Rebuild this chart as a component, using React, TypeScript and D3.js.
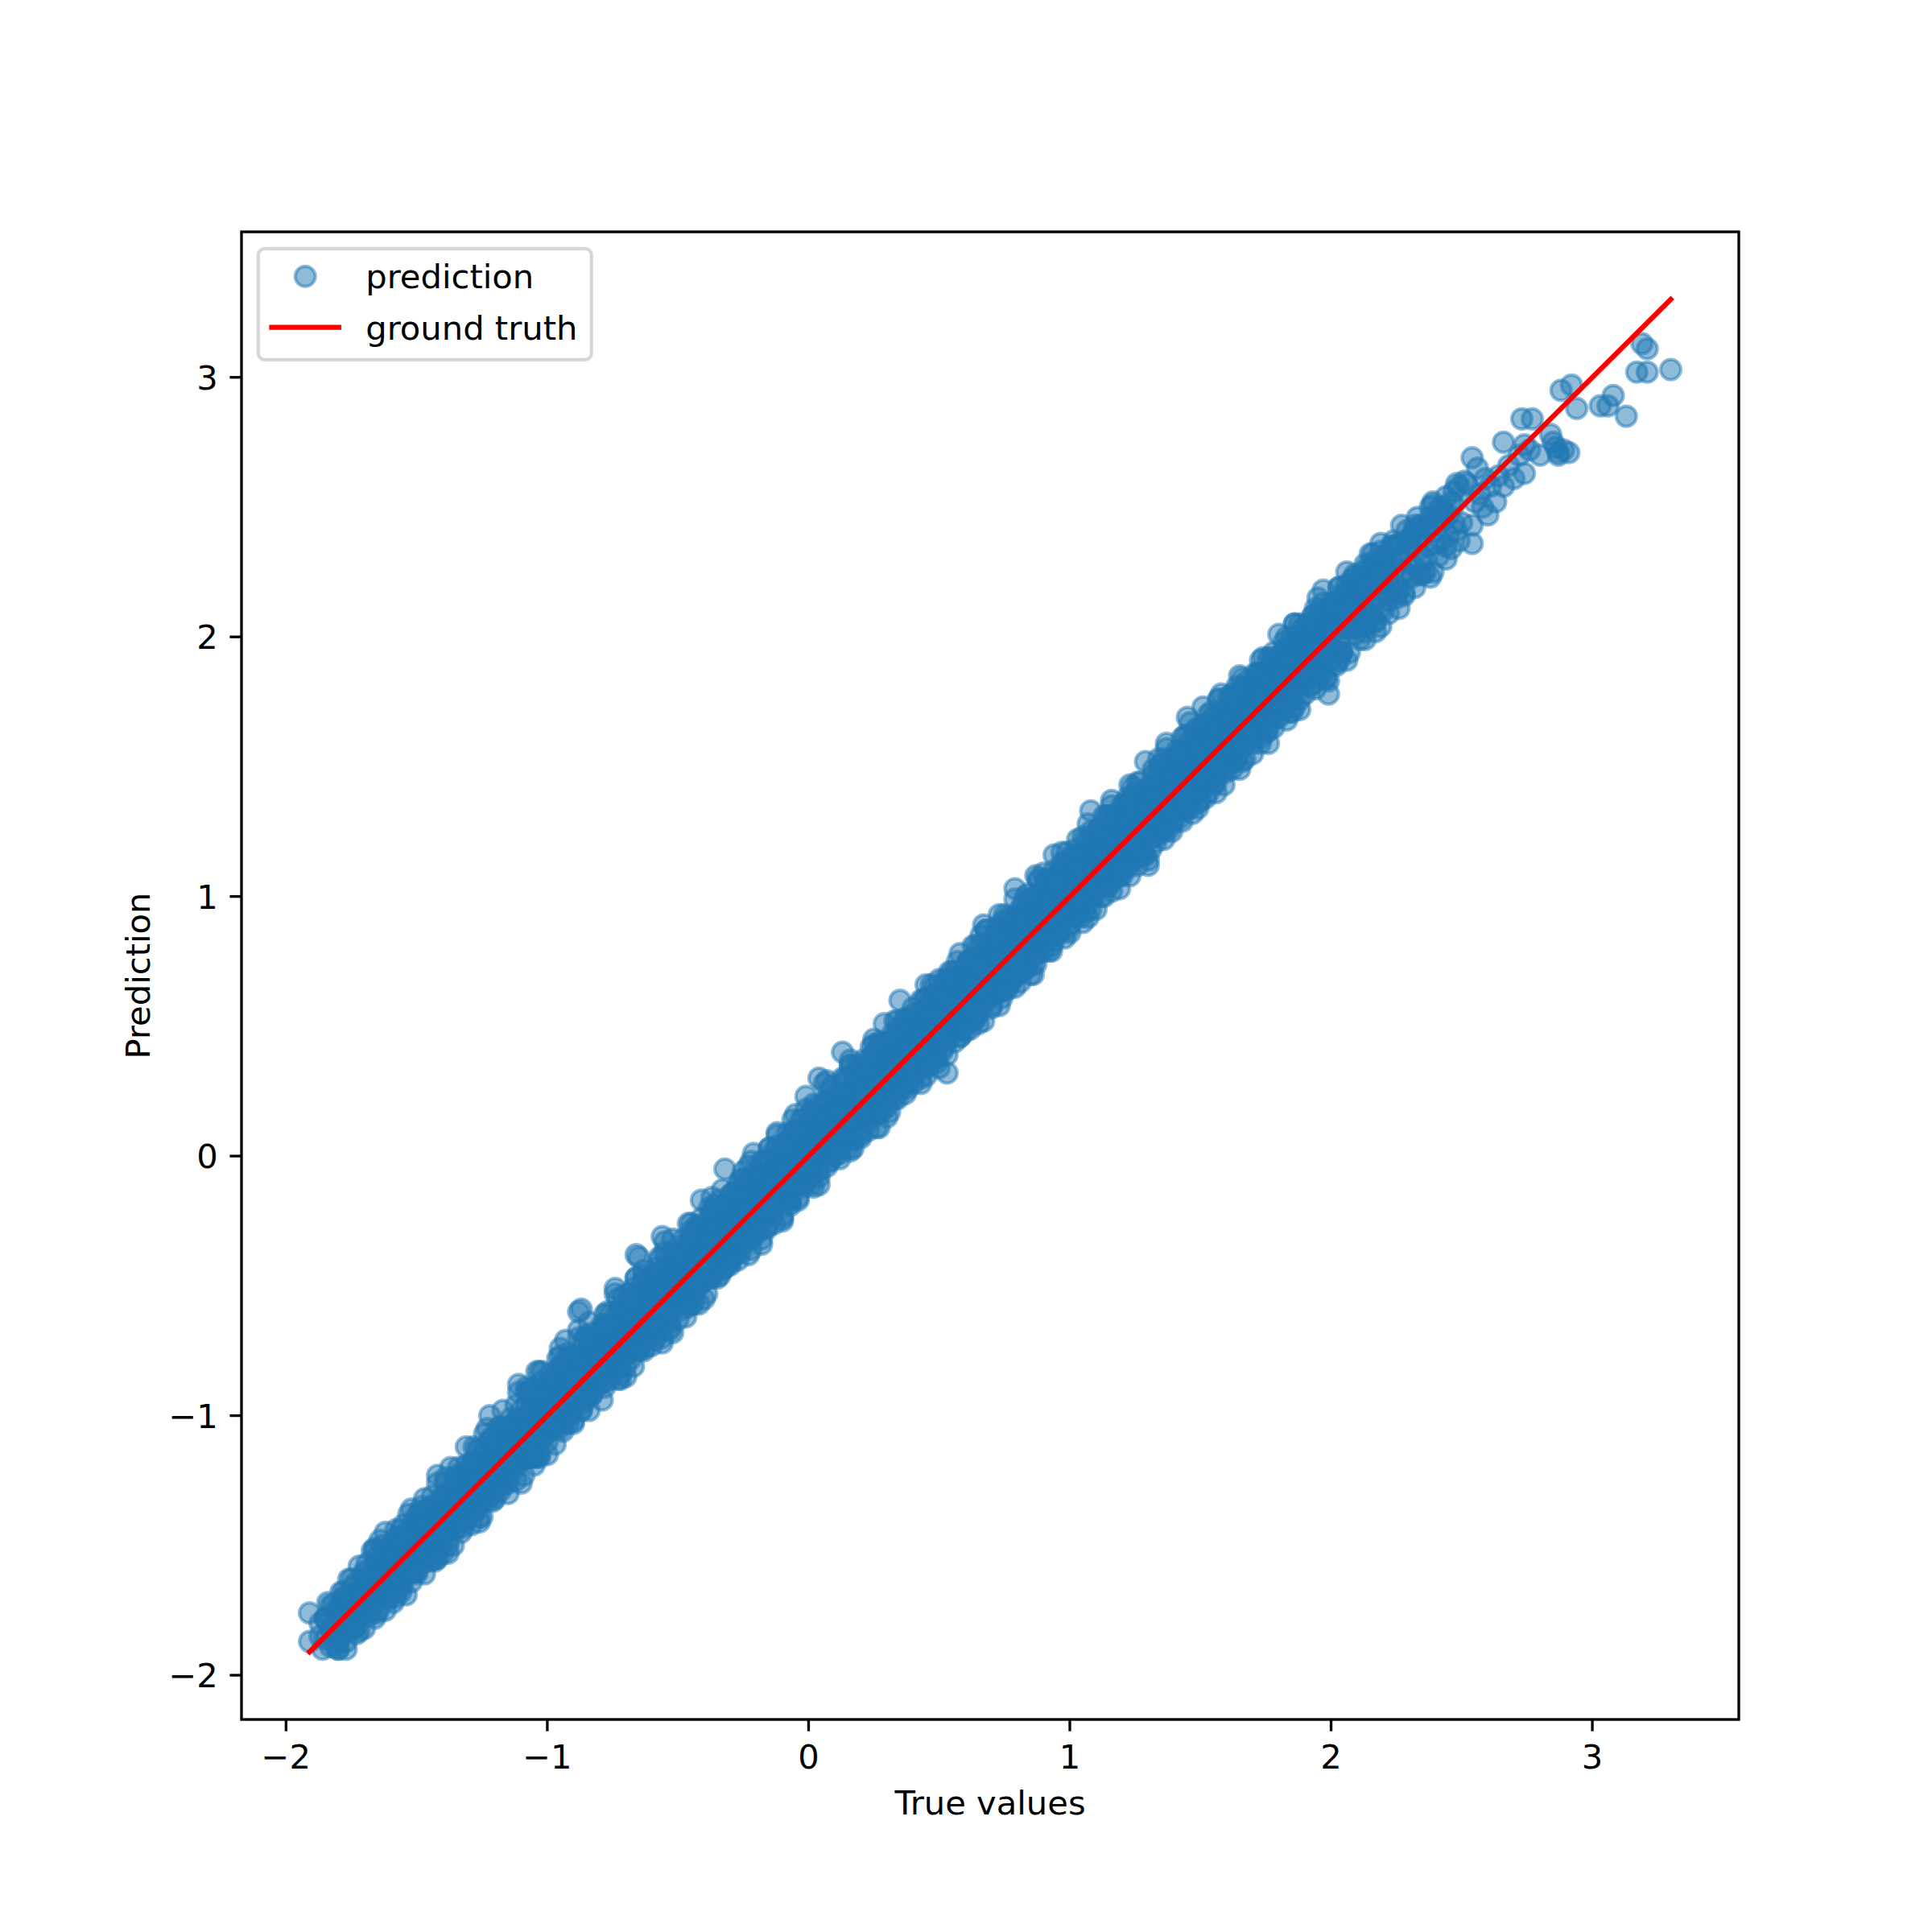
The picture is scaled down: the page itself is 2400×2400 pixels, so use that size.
import React from 'react';
import * as d3 from 'd3';

// True values (x) and model predictions (y), read bin by bin from the reference
const trueValues: number[] = [
  -1.91,-1.91,-1.87,-1.85,-1.83,-1.82,
  -1.79,-1.79,-1.78,-1.77,-1.76,-1.75,-1.74,-1.73,-1.72,-1.71,
  -1.70,-1.69,-1.69,-1.68,-1.67,-1.66,-1.66,-1.65,-1.64,-1.63,-1.62,-1.62,-1.61,-1.60,
  -1.60,-1.59,-1.59,-1.58,-1.57,-1.57,-1.56,-1.56,-1.55,-1.54,-1.54,-1.53,-1.53,-1.52,-1.52,-1.51,-1.51,-1.50,
  -1.50,-1.49,-1.49,-1.48,-1.48,-1.47,-1.47,-1.46,-1.46,-1.45,-1.45,-1.44,-1.44,-1.43,-1.43,-1.42,-1.42,-1.41,-1.41,-1.40,-1.40,-1.40,
  -1.39,-1.39,-1.38,-1.38,-1.37,-1.37,-1.36,-1.36,-1.35,-1.35,-1.34,-1.34,-1.33,-1.33,-1.32,-1.32,-1.31,-1.31,-1.30,-1.30,-1.30,-1.31,
  -1.29,-1.29,-1.28,-1.28,-1.27,-1.27,-1.26,-1.26,-1.25,-1.25,-1.24,-1.24,-1.23,-1.23,-1.22,-1.22,-1.21,-1.21,-1.20,-1.20,-1.20,-1.21,
  -1.19,-1.19,-1.18,-1.18,-1.17,-1.17,-1.16,-1.16,-1.15,-1.15,-1.14,-1.14,-1.13,-1.13,-1.12,-1.12,-1.11,-1.11,-1.10,-1.10,-1.10,-1.11,
  -1.09,-1.09,-1.08,-1.08,-1.07,-1.07,-1.06,-1.06,-1.05,-1.05,-1.04,-1.04,-1.03,-1.03,-1.02,-1.02,-1.01,-1.01,-1.08,-1.05,-1.03,-1.06,
  -1.00,-1.00,-0.99,-0.99,-0.98,-0.98,-0.97,-0.97,-0.96,-0.96,-0.95,-0.95,-0.94,-0.94,-0.93,-0.93,-0.92,-0.92,-0.91,-0.91,-0.90,-0.90,
  -0.89,-0.89,-0.88,-0.88,-0.87,-0.87,-0.86,-0.86,-0.85,-0.85,-0.84,-0.84,-0.83,-0.83,-0.82,-0.82,-0.81,-0.81,-0.80,-0.80,-0.80,-0.81,
  -0.79,-0.79,-0.78,-0.78,-0.77,-0.77,-0.76,-0.76,-0.75,-0.75,-0.74,-0.74,-0.73,-0.73,-0.72,-0.72,-0.71,-0.71,-0.70,-0.70,-0.70,-0.71,
  -0.69,-0.69,-0.68,-0.68,-0.67,-0.67,-0.66,-0.66,-0.66,-0.65,-0.65,-0.64,-0.64,-0.63,-0.63,-0.62,-0.62,-0.61,-0.61,-0.60,-0.60,-0.65,
  -0.59,-0.59,-0.58,-0.58,-0.57,-0.57,-0.56,-0.56,-0.55,-0.55,-0.54,-0.54,-0.53,-0.53,-0.52,-0.52,-0.51,-0.51,-0.50,-0.50,-0.56,-0.53,
  -0.49,-0.49,-0.48,-0.48,-0.47,-0.47,-0.46,-0.46,-0.45,-0.45,-0.44,-0.44,-0.43,-0.43,-0.42,-0.42,-0.41,-0.41,-0.40,-0.40,-0.47,-0.44,
  -0.39,-0.39,-0.38,-0.38,-0.37,-0.37,-0.36,-0.36,-0.35,-0.35,-0.34,-0.34,-0.33,-0.33,-0.32,-0.32,-0.31,-0.31,-0.30,-0.30,-0.36,-0.33,
  -0.29,-0.29,-0.28,-0.28,-0.27,-0.27,-0.26,-0.26,-0.25,-0.25,-0.24,-0.24,-0.23,-0.23,-0.22,-0.22,-0.21,-0.21,-0.20,-0.20,-0.27,-0.24,
  -0.19,-0.19,-0.18,-0.18,-0.17,-0.17,-0.16,-0.16,-0.15,-0.15,-0.14,-0.14,-0.13,-0.13,-0.12,-0.12,-0.11,-0.11,-0.10,-0.10,-0.16,-0.13,
  -0.09,-0.09,-0.08,-0.08,-0.07,-0.07,-0.06,-0.06,-0.05,-0.05,-0.04,-0.04,-0.03,-0.03,-0.02,-0.02,-0.01,-0.01,0.00,0.00,-0.06,-0.03,
  0.01,0.01,0.02,0.02,0.03,0.03,0.04,0.04,0.05,0.05,0.06,0.06,0.07,0.07,0.08,0.08,0.09,0.09,0.10,0.10,0.04,0.07,
  0.11,0.11,0.12,0.12,0.13,0.13,0.14,0.14,0.15,0.15,0.16,0.16,0.17,0.17,0.18,0.18,0.19,0.19,0.20,0.20,0.13,0.16,
  0.21,0.21,0.22,0.22,0.23,0.23,0.24,0.24,0.25,0.25,0.26,0.26,0.27,0.27,0.28,0.28,0.29,0.29,0.30,0.30,0.23,0.27,
  0.31,0.31,0.32,0.32,0.33,0.33,0.34,0.34,0.35,0.35,0.36,0.36,0.37,0.37,0.38,0.38,0.39,0.39,0.40,0.40,0.34,0.37,
  0.41,0.41,0.42,0.42,0.43,0.43,0.44,0.44,0.45,0.45,0.46,0.46,0.47,0.47,0.48,0.48,0.49,0.49,0.50,0.50,0.44,0.47,
  0.51,0.51,0.52,0.52,0.53,0.53,0.54,0.54,0.55,0.55,0.56,0.56,0.57,0.57,0.58,0.58,0.59,0.59,0.60,0.60,0.53,0.56,
  0.61,0.61,0.62,0.62,0.63,0.63,0.64,0.64,0.65,0.65,0.66,0.66,0.67,0.67,0.68,0.68,0.69,0.69,0.70,0.70,0.63,0.66,
  0.71,0.71,0.72,0.72,0.73,0.73,0.74,0.74,0.75,0.75,0.76,0.76,0.77,0.77,0.78,0.78,0.79,0.79,0.80,0.80,0.73,0.76,
  0.81,0.81,0.82,0.82,0.83,0.83,0.84,0.84,0.85,0.85,0.86,0.86,0.87,0.87,0.88,0.88,0.89,0.89,0.90,0.90,0.83,0.86,
  0.91,0.91,0.92,0.92,0.93,0.93,0.94,0.94,0.95,0.95,0.96,0.96,0.97,0.97,0.98,0.98,0.99,0.99,1.00,1.00,0.93,0.96,
  1.01,1.01,1.02,1.02,1.03,1.03,1.04,1.04,1.05,1.05,1.06,1.06,1.07,1.07,1.08,1.08,1.09,1.09,1.10,1.10,1.03,1.06,
  1.11,1.11,1.12,1.12,1.13,1.13,1.14,1.14,1.15,1.15,1.16,1.16,1.17,1.17,1.18,1.18,1.19,1.19,1.20,1.20,1.13,1.16,
  1.21,1.21,1.22,1.22,1.23,1.23,1.24,1.24,1.25,1.25,1.26,1.26,1.27,1.27,1.28,1.28,1.29,1.29,1.30,1.30,1.23,1.26,
  1.31,1.31,1.32,1.32,1.33,1.33,1.34,1.34,1.35,1.35,1.36,1.36,1.37,1.37,1.38,1.38,1.39,1.39,1.40,1.40,1.33,1.36,
  1.41,1.41,1.42,1.42,1.43,1.43,1.44,1.44,1.45,1.45,1.46,1.46,1.47,1.47,1.48,1.48,1.49,1.49,1.50,1.50,1.43,1.46,
  1.51,1.51,1.52,1.52,1.53,1.53,1.54,1.54,1.55,1.55,1.56,1.56,1.57,1.57,1.58,1.58,1.59,1.59,1.60,1.60,1.53,1.56,
  1.61,1.61,1.62,1.62,1.63,1.63,1.64,1.64,1.65,1.65,1.66,1.66,1.67,1.67,1.68,1.68,1.69,1.69,1.70,1.70,1.63,1.66,
  1.71,1.71,1.72,1.72,1.73,1.73,1.74,1.74,1.75,1.75,1.76,1.76,1.77,1.77,1.78,1.78,1.79,1.79,1.80,1.80,1.73,1.76,
  1.81,1.81,1.82,1.82,1.83,1.83,1.84,1.84,1.85,1.85,1.86,1.86,1.87,1.87,1.88,1.88,1.89,1.89,1.90,1.90,1.83,1.86,
  1.91,1.91,1.92,1.92,1.93,1.93,1.94,1.94,1.95,1.95,1.96,1.96,1.97,1.97,1.98,1.98,1.99,1.99,2.00,2.00,1.93,1.96,
  2.01,2.01,2.02,2.03,2.03,2.04,2.05,2.05,2.06,2.07,2.07,2.08,2.09,2.09,2.10,2.10,
  2.11,2.11,2.12,2.13,2.13,2.14,2.15,2.15,2.16,2.17,2.17,2.18,2.19,2.19,2.20,2.20,
  2.21,2.22,2.23,2.24,2.25,2.26,2.27,2.28,2.29,2.30,
  2.31,2.32,2.33,2.34,2.35,2.36,2.37,2.38,2.39,2.40,
  2.41,2.42,2.44,2.45,2.46,2.47,2.48,2.49,
  2.51,2.52,2.54,2.54,2.54,2.55,2.56,2.57,2.58,2.59,2.60,
  2.61,2.63,2.64,2.66,2.66,2.68,2.70,2.72,2.73,2.74,2.74,2.77,2.76,2.80,2.84,2.85,2.86,
  2.87,2.87,2.88,2.89,2.91,2.92,2.94,3.03,3.06,3.08,3.13,3.17,3.19,3.21,3.21,3.30,
  // second pass over the dense band
  -1.87,-1.86,-1.85,-1.85,-1.84,-1.83,-1.83,-1.82,-1.82,-1.81,-1.81,-1.84,
  -1.80,-1.80,-1.79,-1.79,-1.78,-1.78,-1.77,-1.77,-1.76,-1.76,-1.75,-1.75,-1.74,-1.74,-1.73,-1.73,-1.72,-1.72,-1.71,-1.71,
  -1.70,-1.70,-1.69,-1.69,-1.68,-1.68,-1.67,-1.67,-1.66,-1.66,-1.65,-1.65,-1.64,-1.64,-1.63,-1.63,-1.62,-1.62,-1.61,-1.61,-1.67,-1.64,
  -1.60,-1.60,-1.59,-1.59,-1.58,-1.58,-1.57,-1.57,-1.56,-1.56,-1.55,-1.55,-1.54,-1.54,-1.53,-1.53,-1.52,-1.52,-1.51,-1.51,-1.59,-1.57,-1.55,-1.53,
  -1.50,-1.50,-1.49,-1.49,-1.48,-1.48,-1.47,-1.47,-1.46,-1.46,-1.45,-1.45,-1.44,-1.44,-1.43,-1.43,-1.42,-1.42,-1.41,-1.41,-1.49,-1.47,-1.45,-1.43,
  -1.40,-1.40,-1.39,-1.39,-1.38,-1.38,-1.37,-1.37,-1.36,-1.36,-1.35,-1.35,-1.34,-1.34,-1.33,-1.33,-1.32,-1.32,-1.31,-1.31,-1.39,-1.37,-1.35,-1.33,
  -1.30,-1.30,-1.29,-1.29,-1.28,-1.28,-1.27,-1.27,-1.26,-1.26,-1.25,-1.25,-1.24,-1.24,-1.23,-1.23,-1.22,-1.22,-1.21,-1.21,-1.29,-1.27,-1.25,-1.23,
  -1.20,-1.20,-1.19,-1.19,-1.18,-1.18,-1.17,-1.17,-1.16,-1.16,-1.15,-1.15,-1.14,-1.14,-1.13,-1.13,-1.12,-1.12,-1.11,-1.11,-1.19,-1.17,-1.15,-1.13,
  -1.10,-1.10,-1.09,-1.09,-1.08,-1.08,-1.07,-1.07,-1.06,-1.06,-1.05,-1.05,-1.04,-1.04,-1.03,-1.03,-1.02,-1.02,-1.01,-1.01,-1.09,-1.07,-1.05,-1.03,
  -1.00,-1.00,-0.99,-0.99,-0.98,-0.98,-0.97,-0.97,-0.96,-0.96,-0.95,-0.95,-0.94,-0.94,-0.93,-0.93,-0.92,-0.92,-0.91,-0.91,-0.99,-0.97,-0.95,-0.93,
  -0.90,-0.90,-0.89,-0.89,-0.88,-0.88,-0.87,-0.87,-0.86,-0.86,-0.85,-0.85,-0.84,-0.84,-0.83,-0.83,-0.82,-0.82,-0.81,-0.81,-0.89,-0.87,-0.85,-0.83,
  -0.80,-0.80,-0.79,-0.79,-0.78,-0.78,-0.77,-0.77,-0.76,-0.76,-0.75,-0.75,-0.74,-0.74,-0.73,-0.73,-0.72,-0.72,-0.71,-0.71,-0.79,-0.77,-0.75,-0.73,
  -0.70,-0.70,-0.69,-0.69,-0.68,-0.68,-0.67,-0.67,-0.66,-0.66,-0.65,-0.65,-0.64,-0.64,-0.63,-0.63,-0.62,-0.62,-0.61,-0.61,-0.69,-0.67,-0.65,-0.63,
  -0.60,-0.60,-0.59,-0.59,-0.58,-0.58,-0.57,-0.57,-0.56,-0.56,-0.55,-0.55,-0.54,-0.54,-0.53,-0.53,-0.52,-0.52,-0.51,-0.51,-0.59,-0.57,-0.55,-0.53,
  -0.50,-0.50,-0.49,-0.49,-0.48,-0.48,-0.47,-0.47,-0.46,-0.46,-0.45,-0.45,-0.44,-0.44,-0.43,-0.43,-0.42,-0.42,-0.41,-0.41,-0.49,-0.47,-0.45,-0.43,
  -0.40,-0.40,-0.39,-0.39,-0.38,-0.38,-0.37,-0.37,-0.36,-0.36,-0.35,-0.35,-0.34,-0.34,-0.33,-0.33,-0.32,-0.32,-0.31,-0.31,-0.39,-0.37,-0.35,-0.33,
  -0.30,-0.30,-0.29,-0.29,-0.28,-0.28,-0.27,-0.27,-0.26,-0.26,-0.25,-0.25,-0.24,-0.24,-0.23,-0.23,-0.22,-0.22,-0.21,-0.21,-0.29,-0.27,-0.25,-0.23,
  -0.20,-0.20,-0.19,-0.19,-0.18,-0.18,-0.17,-0.17,-0.16,-0.16,-0.15,-0.15,-0.14,-0.14,-0.13,-0.13,-0.12,-0.12,-0.11,-0.11,-0.19,-0.17,-0.15,-0.13,
  -0.10,-0.10,-0.09,-0.09,-0.08,-0.08,-0.07,-0.07,-0.06,-0.06,-0.05,-0.05,-0.04,-0.04,-0.03,-0.03,-0.02,-0.02,-0.01,-0.01,-0.09,-0.07,-0.05,-0.03,
  0.00,0.00,0.01,0.01,0.02,0.02,0.03,0.03,0.04,0.04,0.05,0.05,0.06,0.06,0.07,0.07,0.08,0.08,0.09,0.09,0.01,0.03,0.05,0.07,
  0.10,0.10,0.11,0.11,0.12,0.12,0.13,0.13,0.14,0.14,0.15,0.15,0.16,0.16,0.17,0.17,0.18,0.18,0.19,0.19,0.11,0.13,0.15,0.17,
  0.20,0.20,0.21,0.21,0.22,0.22,0.23,0.23,0.24,0.24,0.25,0.25,0.26,0.26,0.27,0.27,0.28,0.28,0.29,0.29,0.21,0.23,0.25,0.27,
  0.30,0.30,0.31,0.31,0.32,0.32,0.33,0.33,0.34,0.34,0.35,0.35,0.36,0.36,0.37,0.37,0.38,0.38,0.39,0.39,0.31,0.33,0.35,0.37,
  0.40,0.40,0.41,0.41,0.42,0.42,0.43,0.43,0.44,0.44,0.45,0.45,0.46,0.46,0.47,0.47,0.48,0.48,0.49,0.49,0.41,0.43,0.45,0.47,
  0.50,0.50,0.51,0.51,0.52,0.52,0.53,0.53,0.54,0.54,0.55,0.55,0.56,0.56,0.57,0.57,0.58,0.58,0.59,0.59,0.51,0.53,0.55,0.57,
  0.60,0.60,0.61,0.61,0.62,0.62,0.63,0.63,0.64,0.64,0.65,0.65,0.66,0.66,0.67,0.67,0.68,0.68,0.69,0.69,0.61,0.63,0.65,0.67,
  0.70,0.70,0.71,0.71,0.72,0.72,0.73,0.73,0.74,0.74,0.75,0.75,0.76,0.76,0.77,0.77,0.78,0.78,0.79,0.79,0.71,0.73,0.75,0.77,
  0.80,0.80,0.81,0.81,0.82,0.82,0.83,0.83,0.84,0.84,0.85,0.85,0.86,0.86,0.87,0.87,0.88,0.88,0.89,0.89,0.81,0.83,0.85,0.87,
  0.90,0.90,0.91,0.91,0.92,0.92,0.93,0.93,0.94,0.94,0.95,0.95,0.96,0.96,0.97,0.97,0.98,0.98,0.99,0.99,0.91,0.93,0.95,0.97,
  1.00,1.00,1.01,1.01,1.02,1.02,1.03,1.03,1.04,1.04,1.05,1.05,1.06,1.06,1.07,1.07,1.08,1.08,1.09,1.09,1.01,1.03,1.05,1.07,
  1.10,1.10,1.11,1.11,1.12,1.12,1.13,1.13,1.14,1.14,1.15,1.15,1.16,1.16,1.17,1.17,1.18,1.18,1.19,1.19,1.11,1.13,1.15,1.17,
  1.20,1.20,1.21,1.21,1.22,1.22,1.23,1.23,1.24,1.24,1.25,1.25,1.26,1.26,1.27,1.27,1.28,1.28,1.29,1.29,1.21,1.23,1.25,1.27,
  1.30,1.30,1.31,1.31,1.32,1.32,1.33,1.33,1.34,1.34,1.35,1.35,1.36,1.36,1.37,1.37,1.38,1.38,1.39,1.39,1.31,1.33,1.35,1.37,
  1.40,1.40,1.41,1.41,1.42,1.42,1.43,1.43,1.44,1.44,1.45,1.45,1.46,1.46,1.47,1.47,1.48,1.48,1.49,1.49,1.41,1.43,1.45,1.47,
  1.50,1.50,1.51,1.51,1.52,1.52,1.53,1.53,1.54,1.54,1.55,1.55,1.56,1.56,1.57,1.57,1.58,1.58,1.59,1.59,1.51,1.53,1.55,1.57,
  1.60,1.60,1.61,1.61,1.62,1.62,1.63,1.63,1.64,1.64,1.65,1.65,1.66,1.66,1.67,1.67,1.68,1.68,1.69,1.69,1.61,1.63,1.65,1.67,
  1.70,1.70,1.71,1.71,1.72,1.72,1.73,1.73,1.74,1.74,1.75,1.75,1.76,1.76,1.77,1.77,1.78,1.78,1.79,1.79,1.71,1.73,1.75,1.77,
  1.80,1.80,1.81,1.81,1.82,1.82,1.83,1.83,1.84,1.84,1.85,1.85,1.86,1.86,1.87,1.87,1.88,1.88,1.89,1.89,1.81,1.83,1.85,1.87,
  1.90,1.90,1.91,1.91,1.92,1.92,1.93,1.93,1.94,1.94,1.95,1.95,1.96,1.96,1.97,1.97,1.98,1.98,1.99,1.99,1.91,1.93,1.95,1.97,
  2.00,2.00,2.01,2.02,2.02,2.03,2.04,2.04,2.05,2.06,2.06,2.07,2.08,2.08,2.09,2.09,2.01,2.03,2.05,2.07,
  2.10,2.11,2.11,2.12,2.13,2.13,2.14,2.15,2.15,2.16,2.17,2.17,2.18,2.19,2.19,2.12,2.14,2.16,
  2.20,2.21,2.22,2.23,2.24,2.25,2.26,2.27,2.28,2.29,2.22,2.26,
  2.30,2.31,2.32,2.33,2.34,2.35,2.36,2.37,2.38,2.39,
  2.40,2.42,2.43,2.44,2.46,2.47,2.48,2.50,
  // third pass, lower edge of the band
  -1.80,-1.79,-1.78,-1.77,-1.76,-1.75,-1.74,-1.73,-1.72,-1.71,-1.80,-1.78,-1.75,-1.72,
  -1.70,-1.69,-1.68,-1.67,-1.66,-1.65,-1.64,-1.63,-1.62,-1.61,-1.70,-1.68,-1.65,-1.62,
  -1.60,-1.59,-1.58,-1.57,-1.56,-1.55,-1.54,-1.53,-1.52,-1.51,-1.60,-1.58,-1.55,-1.52,
  -1.50,-1.49,-1.48,-1.47,-1.46,-1.45,-1.44,-1.43,-1.42,-1.41,-1.50,-1.48,-1.45,-1.42,
  -1.40,-1.39,-1.38,-1.37,-1.36,-1.35,-1.34,-1.33,-1.32,-1.31,-1.40,-1.38,-1.35,-1.32,
  -1.30,-1.29,-1.28,-1.27,-1.26,-1.25,-1.24,-1.23,-1.22,-1.21,-1.30,-1.28,-1.25,-1.22,
  -1.20,-1.19,-1.18,-1.17,-1.16,-1.15,-1.14,-1.13,-1.12,-1.11,-1.20,-1.18,-1.15,-1.12,
  -1.10,-1.09,-1.08,-1.07,-1.06,-1.05,-1.04,-1.03,-1.02,-1.01,-1.10,-1.08,-1.05,-1.02,
  -1.00,-0.99,-0.98,-0.97,-0.96,-0.95,-0.94,-0.93,-0.92,-0.91,-1.00,-0.98,-0.95,-0.92,
  -0.90,-0.89,-0.88,-0.87,-0.86,-0.85,-0.84,-0.83,-0.82,-0.81,-0.90,-0.88,-0.85,-0.82,
  -0.80,-0.79,-0.78,-0.77,-0.76,-0.75,-0.74,-0.73,-0.72,-0.71,-0.80,-0.78,-0.75,-0.72,
  -0.70,-0.69,-0.68,-0.67,-0.66,-0.65,-0.64,-0.63,-0.62,-0.61,-0.70,-0.68,-0.65,-0.62,
  -0.60,-0.59,-0.58,-0.57,-0.56,-0.55,-0.54,-0.53,-0.52,-0.51,-0.60,-0.58,-0.55,-0.52,
  -0.50,-0.49,-0.48,-0.47,-0.46,-0.45,-0.44,-0.43,-0.42,-0.41,-0.50,-0.48,-0.45,-0.42,
  -0.40,-0.39,-0.38,-0.37,-0.36,-0.35,-0.34,-0.33,-0.32,-0.31,-0.40,-0.38,-0.35,-0.32,
  -0.30,-0.29,-0.28,-0.27,-0.26,-0.25,-0.24,-0.23,-0.22,-0.21,-0.30,-0.28,-0.25,-0.22,
  -0.20,-0.19,-0.18,-0.17,-0.16,-0.15,-0.14,-0.13,-0.12,-0.11,-0.20,-0.18,-0.15,-0.12,
  -0.10,-0.09,-0.08,-0.07,-0.06,-0.05,-0.04,-0.03,-0.02,-0.01,-0.10,-0.08,-0.05,-0.02,
  0.00,0.01,0.02,0.03,0.04,0.05,0.06,0.07,0.08,0.09,0.00,0.02,0.05,0.08,
  0.10,0.11,0.12,0.13,0.14,0.15,0.16,0.17,0.18,0.19,0.10,0.12,0.15,0.18,
  0.20,0.21,0.22,0.23,0.24,0.25,0.26,0.27,0.28,0.29,0.20,0.22,0.25,0.28,
  0.30,0.31,0.32,0.33,0.34,0.35,0.36,0.37,0.38,0.39,0.30,0.32,0.35,0.38,
  0.40,0.41,0.42,0.43,0.44,0.45,0.46,0.47,0.48,0.49,0.40,0.42,0.45,0.48,
  0.50,0.51,0.52,0.53,0.54,0.55,0.56,0.57,0.58,0.59,0.50,0.52,0.55,0.58,
  0.60,0.61,0.62,0.63,0.64,0.65,0.66,0.67,0.68,0.69,0.60,0.62,0.65,0.68,
  0.70,0.71,0.72,0.73,0.74,0.75,0.76,0.77,0.78,0.79,0.70,0.72,0.75,0.78,
  0.80,0.81,0.82,0.83,0.84,0.85,0.86,0.87,0.88,0.89,0.80,0.82,0.85,0.88,
  0.90,0.91,0.92,0.93,0.94,0.95,0.96,0.97,0.98,0.99,0.90,0.92,0.95,0.98,
  1.00,1.01,1.02,1.03,1.04,1.05,1.06,1.07,1.08,1.09,1.00,1.02,1.05,1.08,
  1.10,1.11,1.12,1.13,1.14,1.15,1.16,1.17,1.18,1.19,1.10,1.12,1.15,1.18,
  1.20,1.21,1.22,1.23,1.24,1.25,1.26,1.27,1.28,1.29,1.20,1.22,1.25,1.28,
  1.30,1.31,1.32,1.33,1.34,1.35,1.36,1.37,1.38,1.39,1.30,1.32,1.35,1.38,
  1.40,1.41,1.42,1.43,1.44,1.45,1.46,1.47,1.48,1.49,1.40,1.42,1.45,1.48,
  1.50,1.51,1.52,1.53,1.54,1.55,1.56,1.57,1.58,1.59,1.50,1.52,1.55,1.58,
  1.60,1.61,1.62,1.63,1.64,1.65,1.66,1.67,1.68,1.69,1.60,1.62,1.65,1.68,
  1.70,1.71,1.72,1.73,1.74,1.75,1.76,1.77,1.78,1.79,1.70,1.72,1.75,1.78,
  1.80,1.81,1.82,1.83,1.84,1.85,1.86,1.87,1.88,1.89,1.80,1.82,1.85,1.88,
  1.90,1.91,1.92,1.93,1.94,1.95,1.96,1.97,1.98,1.99,1.90,1.92,1.95,1.98,
  2.00,2.01,2.02,2.03,2.04,2.05,2.06,2.07,2.08,2.09,2.02,2.06,
  2.10,2.11,2.12,2.13,2.14,2.15,2.16,2.17,2.18,2.19,2.12,2.16,
  2.20,2.21,2.22,2.23,2.24,2.25,2.26,2.27,2.28,2.29,
  2.31,2.32,2.33,2.35,2.36,2.37,2.38,2.39,
  2.41,2.43,2.44,2.45,2.47,2.49,
];

const predictions: number[] = [
  -1.87,-1.76,-1.80,-1.78,-1.82,-1.73,
  -1.84,-1.72,-1.74,-1.80,-1.70,-1.77,-1.66,-1.81,-1.69,-1.74,
  -1.60,-1.71,-1.65,-1.75,-1.62,-1.51,-1.68,-1.58,-1.66,-1.55,-1.70,-1.60,-1.52,-1.63,
  -1.56,-1.49,-1.62,-1.54,-1.66,-1.51,-1.68,-1.55,-1.47,-1.58,-1.52,-1.61,-1.45,-1.50,-1.56,-1.43,-1.59,-1.48,
  -1.53,-1.42,-1.47,-1.55,-1.40,-1.49,-1.44,-1.52,-1.37,-1.45,-1.41,-1.50,-1.35,-1.43,-1.47,-1.38,-1.53,-1.40,-1.34,-1.44,-1.53,-1.37,
  -1.36,-1.41,-1.31,-1.45,-1.35,-1.29,-1.39,-1.33,-1.44,-1.30,-1.36,-1.26,-1.32,-1.41,-1.28,-1.35,-1.22,-1.30,-1.38,-1.25,-1.33,-1.40,
  -1.27,-1.21,-1.31,-1.24,-1.36,-1.20,-1.25,-1.29,-1.18,-1.33,-1.22,-1.15,-1.26,-1.19,-1.30,-1.00,-1.20,-1.24,-1.14,-1.28,-1.17,-1.09,
  -1.16,-1.10,-1.21,-1.13,-1.25,-1.07,-1.15,-1.19,-1.09,-1.22,-1.11,-1.04,-1.16,-1.08,-1.20,-1.02,-1.10,-1.14,-1.05,-1.17,-1.12,-0.88,
  -1.05,-1.16,-0.96,-1.10,-0.99,-0.90,-1.16,-1.03,-0.91,-1.10,-0.98,-0.83,-1.15,-0.93,-1.01,-0.87,-1.05,-0.92,-0.89,-1.19,-0.98,-1.06,
  -0.93,-1.05,-0.96,-0.88,-1.02,-0.94,-0.85,-0.99,-0.92,-1.04,-0.90,-0.74,-0.97,-0.89,-1.01,-0.86,-0.93,-0.78,-0.88,-0.99,-0.84,-0.92,
  -0.85,-0.94,-0.80,-0.60,-0.89,-0.59,-0.95,-0.77,-0.84,-0.90,-0.75,-0.81,-0.92,-0.70,-0.79,-0.86,-0.73,-0.88,-0.77,-0.69,-0.84,-0.80,
  -0.74,-0.83,-0.70,-0.80,-0.60,-0.76,-0.84,-0.67,-0.73,-0.79,-0.51,-0.70,-0.81,-0.74,-0.66,-0.59,-0.72,-0.77,-0.62,-0.68,-0.75,-0.65,
  -0.66,-0.75,-0.58,-0.70,-0.51,-0.62,-0.38,-0.65,-0.75,-0.58,-0.52,-0.68,-0.62,-0.44,-0.74,-0.56,-0.53,-0.62,-0.47,-0.56,-0.67,-0.39,
  -0.54,-0.62,-0.46,-0.66,-0.55,-0.39,-0.72,-0.48,-0.55,-0.33,-0.59,-0.44,-0.49,-0.67,-0.37,-0.49,-0.58,-0.40,-0.44,-0.52,-0.31,-0.52,
  -0.47,-0.40,-0.54,-0.34,-0.43,-0.57,-0.39,-0.26,-0.47,-0.34,-0.43,-0.57,-0.27,-0.38,-0.46,-0.34,-0.17,-0.49,-0.37,-0.28,-0.62,-0.38,
  -0.43,-0.32,-0.25,-0.47,-0.35,-0.16,-0.37,-0.26,-0.30,-0.47,-0.17,-0.34,-0.25,-0.39,-0.20,-0.05,-0.34,-0.27,-0.15,-0.40,-0.30,-0.32,
  -0.23,-0.31,-0.17,-0.36,-0.24,-0.11,-0.37,-0.18,-0.24,-0.06,-0.29,-0.15,-0.10,-0.26,-0.18,-0.36,0.01,-0.14,-0.26,-0.10,-0.25,-0.10,
  -0.18,-0.09,-0.25,-0.13,-0.02,-0.20,-0.08,-0.28,0.03,-0.13,-0.08,-0.23,-0.01,-0.13,0.09,-0.16,-0.02,-0.07,-0.25,0.03,-0.13,-0.19,
  -0.14,-0.01,-0.06,0.06,-0.17,-0.01,0.14,-0.08,0.06,-0.01,-0.17,0.05,-0.02,0.14,-0.08,0.05,0.23,0.02,-0.09,0.12,-0.06,0.02,
  0.04,-0.07,0.14,0.07,0.00,0.19,0.12,-0.08,0.06,0.15,0.28,0.01,0.13,0.21,0.07,-0.02,0.18,0.27,0.12,0.04,0.30,0.11,
  0.18,0.07,0.23,0.01,0.15,0.40,0.29,0.07,0.20,0.24,0.14,0.35,0.20,0.03,0.30,0.24,0.10,0.20,0.33,0.28,0.08,0.37,
  0.23,0.31,0.16,0.36,0.27,0.10,0.32,0.42,0.23,0.31,0.38,0.17,0.28,0.43,0.33,0.24,0.51,0.38,0.19,0.33,0.34,0.11,
  0.28,0.38,0.45,0.24,0.35,0.52,0.39,0.22,0.45,0.60,0.31,0.40,0.52,0.36,0.46,0.28,0.51,0.42,0.33,0.57,0.40,0.37,
  0.46,0.35,0.53,0.44,0.30,0.51,0.60,0.41,0.51,0.66,0.37,0.47,0.59,0.51,0.43,0.62,0.38,0.58,0.53,0.68,0.43,0.54,
  0.59,0.49,0.65,0.42,0.57,0.32,0.71,0.60,0.48,0.65,0.57,0.71,0.53,0.66,0.78,0.46,0.62,0.70,0.54,0.65,0.67,0.56,
  0.64,0.73,0.57,0.69,0.81,0.52,0.66,0.73,0.51,0.80,0.71,0.63,0.78,0.89,0.60,0.74,0.82,0.67,0.78,0.58,0.64,0.85,
  0.67,0.79,0.86,0.63,0.76,0.93,0.80,0.61,0.85,0.76,0.70,0.92,0.81,0.88,0.68,0.85,1.03,0.77,0.93,0.85,0.58,0.85,
  0.87,0.76,0.94,0.84,0.72,1.00,0.93,0.82,0.99,0.89,0.70,0.93,1.08,0.87,0.98,0.80,0.94,1.02,0.87,1.09,0.91,0.74,
  0.93,1.02,0.85,1.07,0.98,0.81,1.02,1.16,0.92,1.05,0.99,0.87,1.13,1.03,0.84,1.10,1.00,1.17,0.95,1.09,0.97,1.09,
  0.99,1.10,1.16,0.92,1.07,1.22,0.98,1.11,1.17,0.90,1.08,1.22,1.13,1.03,1.18,1.33,1.00,1.12,1.23,1.09,1.11,0.94,
  1.16,1.04,1.23,1.13,1.31,1.00,1.22,1.17,1.11,1.29,1.37,1.06,1.23,1.29,1.16,1.27,1.03,1.23,1.35,1.14,1.23,1.16,
  1.28,1.18,1.35,1.11,1.25,1.43,1.33,1.16,1.40,1.29,1.12,1.37,1.28,1.44,1.23,1.34,1.52,1.28,1.38,1.12,1.35,1.29,
  1.35,1.41,1.23,1.47,1.34,1.21,1.41,1.53,1.32,1.46,1.41,1.26,1.51,1.59,1.32,1.46,1.41,1.25,1.52,1.46,1.32,1.53,
  1.36,1.49,1.55,1.30,1.46,1.61,1.50,1.37,1.56,1.69,1.44,1.55,1.32,1.51,1.62,1.49,1.40,1.65,1.57,1.46,1.53,1.67,
  1.73,1.53,1.44,1.64,1.58,1.40,1.71,1.62,1.52,1.69,1.56,1.46,1.67,1.76,1.62,1.52,1.72,1.43,1.67,1.61,1.62,1.54,
  1.67,1.57,1.73,1.78,1.52,1.66,1.73,1.57,1.85,1.66,1.79,1.52,1.72,1.77,1.66,1.83,1.76,1.60,1.82,1.72,1.58,1.84,
  1.74,1.81,1.66,1.86,1.61,1.80,1.92,1.75,1.72,1.86,1.81,1.59,1.85,1.92,1.70,1.80,1.91,1.78,2.01,1.86,1.82,1.66,
  1.79,1.90,1.95,1.73,1.87,2.00,1.71,1.90,1.95,1.85,2.05,1.81,1.94,1.99,1.72,1.91,1.97,1.82,2.04,1.91,1.88,1.97,
  1.96,1.85,2.02,1.94,1.82,2.08,2.01,1.91,2.07,2.15,1.88,2.00,2.18,2.06,1.84,1.99,1.78,2.05,2.11,1.96,2.01,2.09,
  2.04,2.13,1.95,2.19,2.08,1.94,2.14,2.03,2.25,2.13,1.94,2.19,2.10,2.23,2.05,2.18,
  2.07,2.18,2.25,2.02,2.15,2.23,2.09,2.32,2.20,2.02,2.27,2.18,2.33,2.11,2.26,2.31,
  2.26,2.14,2.35,2.26,2.20,2.36,2.43,2.16,2.33,2.38,
  2.28,2.41,2.46,2.24,2.38,2.30,2.43,2.50,2.25,2.41,
  2.48,2.37,2.54,2.47,2.34,2.51,2.41,2.58,
  2.60,2.59,2.69,2.43,2.36,2.52,2.65,2.55,2.50,2.61,2.47,
  2.58,2.52,2.62,2.75,2.58,2.66,2.61,2.70,2.84,2.63,2.74,2.84,2.72,2.70,2.78,2.75,2.73,
  2.71,2.70,2.95,2.72,2.71,2.97,2.88,2.89,2.89,2.93,2.85,3.02,3.13,3.11,3.02,3.03,
  // second pass over the dense band
  -1.85,-1.90,-1.78,-1.86,-1.80,-1.89,-1.73,-1.81,-1.85,-1.75,-1.89,-1.72,
  -1.75,-1.87,-1.78,-1.68,-1.81,-1.70,-1.87,-1.74,-1.63,-1.81,-1.69,-1.75,-1.82,-1.65,-1.69,-1.75,-1.58,-1.83,-1.64,-1.69,
  -1.74,-1.63,-1.57,-1.67,-1.77,-1.63,-1.52,-1.69,-1.57,-1.78,-1.62,-1.54,-1.70,-1.58,-1.62,-1.50,-1.66,-1.54,-1.71,-1.57,-1.67,-1.48,
  -1.57,-1.50,-1.64,-1.52,-1.44,-1.68,-1.55,-1.49,-1.59,-1.44,-1.50,-1.63,-1.54,-1.45,-1.38,-1.57,-1.46,-1.64,-1.40,-1.50,-1.55,-1.64,-1.42,-1.47,
  -1.42,-1.52,-1.37,-1.45,-1.57,-1.42,-1.32,-1.52,-1.44,-1.36,-1.56,-1.38,-1.41,-1.31,-1.47,-1.34,-1.42,-1.26,-1.48,-1.36,-1.38,-1.48,-1.41,-1.56,
  -1.39,-1.31,-1.45,-1.26,-1.33,-1.48,-1.30,-1.20,-1.39,-1.32,-1.24,-1.43,-1.20,-1.32,-1.45,-1.27,-1.22,-1.36,-1.28,-1.12,-1.31,-1.39,-1.23,-1.33,
  -1.24,-1.34,-1.18,-1.27,-1.12,-1.37,-1.23,-1.19,-1.39,-1.13,-1.25,-1.18,-1.30,-1.14,-1.05,-1.20,-1.24,-1.10,-1.16,-1.31,-1.20,-1.13,-1.30,-1.22,
  -1.23,-1.12,-1.05,-1.16,-1.26,-1.07,-1.12,-0.98,-1.17,-1.07,-1.26,-1.09,-1.01,-1.14,-1.06,-1.19,-0.96,-1.10,-1.01,-1.15,-1.15,-1.05,-1.24,-1.05,
  -1.05,-0.98,-1.14,-1.01,-1.06,-0.91,-1.16,-1.03,-0.96,-1.08,-0.91,-0.99,-1.16,-0.95,-1.02,-0.83,-1.08,-0.95,-0.89,-0.98,-1.17,-0.92,-1.00,-1.06,
  -0.90,-0.98,-0.84,-1.06,-0.92,-0.86,-1.00,-0.88,-0.78,-0.95,-1.05,-0.88,-0.81,-0.90,-0.98,-0.82,-0.89,-0.76,-0.99,-0.83,-0.94,-0.98,-0.81,-0.71,
  -0.86,-0.77,-0.95,-0.80,-0.70,-0.87,-0.80,-0.98,-0.71,-0.81,-0.75,-0.88,-0.72,-0.64,-0.91,-0.77,-0.80,-0.68,-0.86,-0.72,-0.78,-0.84,-0.69,-0.85,
  -0.72,-0.84,-0.67,-0.76,-0.61,-0.87,-0.71,-0.66,-0.75,-0.61,-0.82,-0.66,-0.70,-0.53,-0.75,-0.60,-0.65,-0.84,-0.61,-0.69,-0.65,-0.72,-0.81,-0.55,
  -0.68,-0.59,-0.74,-0.53,-0.61,-0.78,-0.54,-0.63,-0.47,-0.68,-0.57,-0.53,-0.72,-0.59,-0.48,-0.63,-0.52,-0.66,-0.55,-0.47,-0.76,-0.58,-0.62,-0.46,
  -0.51,-0.63,-0.45,-0.53,-0.69,-0.48,-0.54,-0.40,-0.62,-0.48,-0.43,-0.54,-0.39,-0.63,-0.48,-0.42,-0.54,-0.32,-0.44,-0.56,-0.46,-0.53,-0.46,-0.66,
  -0.37,-0.46,-0.56,-0.39,-0.32,-0.49,-0.40,-0.35,-0.56,-0.41,-0.26,-0.43,-0.35,-0.48,-0.29,-0.37,-0.50,-0.31,-0.38,-0.24,-0.49,-0.39,-0.57,-0.28,
  -0.34,-0.26,-0.43,-0.30,-0.37,-0.20,-0.46,-0.26,-0.32,-0.21,-0.41,-0.27,-0.22,-0.34,-0.13,-0.44,-0.25,-0.19,-0.29,-0.34,-0.29,-0.21,-0.30,-0.41,
  -0.19,-0.35,-0.22,-0.14,-0.26,-0.38,-0.15,-0.22,-0.09,-0.28,-0.16,-0.12,-0.31,-0.20,-0.13,-0.04,-0.26,-0.16,-0.07,-0.20,-0.38,-0.19,-0.09,-0.20,
  -0.16,-0.08,-0.27,-0.12,-0.02,-0.17,-0.20,-0.07,-0.02,-0.27,-0.09,0.03,-0.12,-0.05,-0.19,0.00,-0.07,0.08,-0.13,-0.03,-0.08,-0.22,-0.12,0.02,
  -0.02,-0.14,0.04,-0.06,0.09,-0.17,-0.01,0.04,-0.07,0.09,-0.01,0.16,-0.11,0.05,0.09,-0.03,0.14,-0.07,0.06,0.09,-0.07,-0.19,0.09,0.02,
  0.02,0.10,-0.05,0.15,0.07,0.20,0.00,0.11,0.16,-0.06,0.11,0.06,0.21,0.01,0.16,0.29,0.11,0.00,0.20,0.16,0.17,0.01,0.09,0.20,
  0.06,0.19,0.24,0.13,0.03,0.18,0.30,0.24,0.12,0.18,0.29,0.08,0.24,0.35,0.18,0.06,0.30,0.23,0.35,0.14,0.18,0.23,0.15,0.32,
  0.27,0.17,0.33,0.37,0.23,0.14,0.33,0.28,0.38,0.19,0.33,0.45,0.29,0.16,0.38,0.33,0.26,0.43,0.38,0.29,0.34,0.17,0.29,0.44,
  0.33,0.41,0.25,0.39,0.47,0.33,0.23,0.46,0.40,0.52,0.32,0.44,0.48,0.38,0.30,0.53,0.43,0.48,0.35,0.53,0.38,0.32,0.46,0.41,
  0.50,0.38,0.47,0.55,0.34,0.46,0.60,0.52,0.44,0.56,0.34,0.52,0.61,0.49,0.66,0.42,0.56,0.61,0.50,0.42,0.52,0.48,0.61,0.46,
  0.55,0.63,0.47,0.60,0.54,0.68,0.44,0.60,0.65,0.53,0.69,0.59,0.50,0.66,0.75,0.57,0.66,0.46,0.71,0.65,0.48,0.68,0.58,0.66,
  0.61,0.69,0.75,0.56,0.68,0.73,0.53,0.66,0.81,0.72,0.63,0.77,0.71,0.81,0.60,0.77,0.70,0.87,0.65,0.76,0.74,0.63,0.74,0.59,
  0.77,0.67,0.83,0.75,0.88,0.64,0.82,0.74,0.87,0.68,0.85,0.93,0.78,0.84,0.66,0.91,0.83,0.77,0.90,0.99,0.74,0.88,0.70,0.83,
  0.84,0.92,0.75,0.89,0.97,0.82,0.74,0.94,0.90,1.01,0.83,0.94,0.99,0.81,0.90,0.97,1.07,0.78,0.96,0.90,0.95,0.79,0.96,0.92,
  1.00,0.89,0.97,1.05,0.85,0.95,1.05,1.01,0.83,1.10,0.97,1.04,0.92,1.09,1.02,1.17,0.92,1.09,0.99,1.06,1.06,0.90,1.03,1.09,
  1.05,1.13,0.96,1.10,1.04,1.18,0.95,1.10,1.15,1.04,1.23,1.02,1.18,1.12,0.97,1.21,1.12,1.17,1.07,1.24,1.02,1.13,0.98,1.28,
  1.12,1.20,1.26,1.05,1.19,1.24,1.11,1.17,1.31,1.05,1.23,1.28,1.17,1.35,1.12,1.26,1.32,1.21,1.08,1.25,1.22,1.09,1.31,1.22,
  1.28,1.16,1.32,1.24,1.38,1.12,1.29,1.36,1.24,1.33,1.18,1.39,1.30,1.44,1.25,1.37,1.34,1.16,1.41,1.31,1.36,1.30,1.20,1.38,
  1.36,1.42,1.28,1.40,1.49,1.24,1.37,1.44,1.35,1.49,1.29,1.43,1.49,1.25,1.42,1.57,1.40,1.48,1.35,1.53,1.38,1.32,1.47,1.40,
  1.43,1.50,1.56,1.36,1.49,1.54,1.33,1.48,1.62,1.45,1.54,1.42,1.60,1.52,1.39,1.58,1.64,1.48,1.57,1.36,1.45,1.56,1.43,1.56,
  1.59,1.48,1.64,1.56,1.43,1.63,1.70,1.55,1.62,1.48,1.69,1.59,1.66,1.44,1.63,1.76,1.59,1.70,1.55,1.66,1.66,1.45,1.58,1.67,
  1.64,1.72,1.54,1.69,1.77,1.62,1.52,1.73,1.70,1.81,1.62,1.74,1.79,1.68,1.59,1.81,1.73,1.79,1.64,1.76,1.77,1.62,1.75,1.70,
  1.81,1.71,1.78,1.62,1.86,1.77,1.91,1.69,1.83,1.86,1.63,1.81,1.79,1.92,1.75,1.87,1.91,1.71,1.87,1.81,1.86,1.77,1.69,1.88,
  1.86,1.75,1.93,1.84,1.98,1.72,1.91,1.96,1.84,1.94,1.78,2.00,1.90,2.05,1.84,1.96,1.99,1.76,1.95,2.03,1.83,1.90,1.76,1.99,
  1.92,2.00,1.85,2.05,1.99,1.81,2.05,1.97,2.11,1.91,2.04,1.96,2.09,1.88,2.03,2.13,2.01,1.84,2.10,2.04,1.89,2.08,2.03,1.92,
  2.05,2.13,1.94,2.11,2.04,2.19,1.94,2.11,2.16,2.03,2.20,2.11,2.18,2.03,2.17,2.24,2.02,1.91,2.17,2.13,
  2.18,2.07,2.23,2.15,2.28,2.04,2.20,2.25,2.13,2.29,2.22,2.06,2.27,2.20,2.36,2.19,2.08,2.27,
  2.22,2.31,2.16,2.30,2.37,2.15,2.30,2.36,2.25,2.41,2.23,2.18,
  2.36,2.24,2.43,2.33,2.43,2.24,2.41,2.35,2.46,2.51,
  2.36,2.50,2.45,2.35,2.52,2.44,2.59,2.44,
  // third pass, lower edge of the band
  -1.90,-1.85,-1.70,-1.90,-1.79,-1.63,-1.82,-1.84,-1.68,-1.76,-1.90,-1.68,-1.82,-1.74,
  -1.82,-1.63,-1.76,-1.71,-1.52,-1.75,-1.70,-1.61,-1.75,-1.70,-1.61,-1.73,-1.76,-1.45,
  -1.67,-1.72,-1.47,-1.60,-1.66,-1.50,-1.69,-1.59,-1.36,-1.60,-1.64,-1.70,-1.47,-1.60,
  -1.61,-1.54,-1.35,-1.61,-1.54,-1.42,-1.46,-1.55,-1.23,-1.48,-1.60,-1.41,-1.49,-1.55,
  -1.49,-1.24,-1.50,-1.42,-1.50,-1.27,-1.41,-1.36,-1.43,-1.19,-1.46,-1.53,-1.31,-1.41,
  -1.34,-1.42,-1.18,-1.35,-1.41,-1.27,-1.07,-1.33,-1.28,-1.33,-1.24,-1.37,-1.39,-1.09,
  -1.32,-1.26,-1.04,-1.27,-1.19,-1.30,-1.05,-1.18,-1.25,-0.91,-1.28,-1.29,-1.12,-1.18,
  -1.16,-1.23,-1.01,-1.16,-0.90,-1.16,-1.08,-1.16,-0.91,-1.08,-1.26,-1.06,-1.15,-0.83,
  -1.10,-0.87,-1.03,-1.11,-1.04,-0.77,-1.06,-0.95,-1.01,-0.85,-1.15,-1.04,-0.81,-1.03,
  -1.03,-0.93,-0.79,-0.98,-0.93,-0.70,-0.98,-0.92,-0.78,-0.86,-1.02,-0.67,-0.93,-0.85,
  -0.88,-0.94,-0.65,-0.83,-0.86,-0.77,-0.67,-0.86,-0.81,-0.54,-0.84,-0.89,-0.65,-0.86,
  -0.81,-0.61,-0.74,-0.81,-0.47,-0.74,-0.67,-0.75,-0.57,-0.68,-0.85,-0.56,-0.75,-0.67,
  -0.65,-0.71,-0.43,-0.66,-0.70,-0.51,-0.61,-0.64,-0.42,-0.54,-0.73,-0.66,-0.37,-0.68,
  -0.63,-0.38,-0.56,-0.51,-0.58,-0.29,-0.54,-0.49,-0.57,-0.34,-0.52,-0.59,-0.32,-0.49,
  -0.47,-0.53,-0.29,-0.47,-0.19,-0.40,-0.46,-0.36,-0.19,-0.40,-0.55,-0.33,-0.43,-0.43,
  -0.42,-0.35,-0.14,-0.40,-0.35,-0.19,-0.28,-0.38,-0.02,-0.29,-0.41,-0.30,-0.15,-0.32,
  -0.29,-0.07,-0.32,-0.22,-0.27,-0.07,-0.21,-0.26,0.04,-0.14,-0.30,-0.34,-0.11,-0.18,
  -0.24,-0.17,0.02,-0.18,-0.10,0.10,-0.16,-0.09,-0.11,0.18,-0.23,-0.05,-0.12,-0.12,
  -0.06,-0.11,0.15,-0.06,-0.11,0.12,0.03,-0.04,0.25,0.01,-0.05,-0.12,0.15,-0.02,
  0.00,0.20,-0.01,0.07,0.30,0.07,0.02,0.15,0.30,0.08,0.03,0.17,0.03,0.14,
  0.07,0.16,0.33,0.13,0.17,0.43,0.11,0.24,0.19,0.37,0.08,0.16,0.39,0.17,
  0.22,0.17,0.39,0.22,0.49,0.31,0.26,0.24,0.50,0.33,0.15,0.35,0.26,0.26,
  0.28,0.54,0.35,0.28,0.41,0.54,0.35,0.41,0.65,0.36,0.31,0.47,0.31,0.46,
  0.46,0.40,0.62,0.39,0.46,0.71,0.44,0.52,0.64,0.49,0.34,0.45,0.68,0.49,
  0.51,0.75,0.49,0.57,0.53,0.73,0.63,0.52,0.87,0.62,0.48,0.66,0.55,0.63,
  0.57,0.64,0.83,0.63,0.90,0.71,0.64,0.69,0.84,0.65,0.65,0.85,0.64,0.69,
  0.74,0.67,0.91,0.72,0.81,0.99,0.77,0.74,1.06,0.82,0.70,0.84,0.70,0.84,
  0.79,0.98,0.84,0.79,1.06,0.90,0.86,0.95,1.13,0.87,0.83,0.79,1.05,0.92,
  0.86,0.95,1.15,0.94,0.92,1.10,1.03,0.92,1.25,1.01,0.89,1.11,0.98,0.95,
  1.03,1.26,1.00,1.09,1.04,1.23,1.02,1.11,1.29,1.10,0.95,1.15,1.04,1.13,
  1.08,1.13,1.32,1.08,1.42,1.19,1.15,1.24,1.35,1.16,1.11,1.36,1.20,1.18,
  1.25,1.18,1.44,1.23,1.27,1.51,1.22,1.33,1.47,1.28,1.14,1.38,1.27,1.26,
  1.30,1.52,1.36,1.29,1.35,1.62,1.34,1.45,1.56,1.34,1.33,1.55,1.34,1.44,
  1.37,1.46,1.66,1.44,1.60,1.43,1.40,1.50,1.78,1.49,1.47,1.38,1.65,1.50,
  1.52,1.70,1.49,1.58,1.53,1.80,1.57,1.53,1.72,1.63,1.48,1.74,1.49,1.65,
  1.59,1.65,1.85,1.59,1.66,1.82,1.64,1.73,1.94,1.69,1.55,1.77,1.68,1.65,
  1.73,1.93,1.72,1.68,1.92,1.81,1.73,1.78,2.05,1.83,1.69,1.85,1.71,1.86,
  1.78,1.87,2.02,1.84,1.80,2.10,1.89,1.86,2.04,1.83,1.85,2.05,1.85,1.90,
  1.91,2.12,1.89,1.98,1.94,2.12,1.91,2.04,2.22,2.01,1.90,2.10,
  2.04,1.99,2.21,1.99,2.27,2.07,2.12,2.06,2.24,2.04,2.05,2.32,
  2.10,2.27,2.09,2.18,2.35,2.17,2.11,2.29,2.17,2.37,
  2.23,2.19,2.42,2.31,2.25,2.42,2.23,2.52,
  2.31,2.48,2.30,2.39,2.56,2.37,
];

const xTicks: number[] = [-2, -1, 0, 1, 2, 3];
const yTicks: number[] = [-2, -1, 0, 1, 2, 3];
const xAxisLabel = 'True values';
const yAxisLabel = 'Prediction';
const legendLabels: string[] = ['prediction', 'ground truth'];

const FONT = '"DejaVu Sans", "Liberation Sans", sans-serif';
const FS = 41.67;
const BLUE = '#1f77b4';

const fmt = (v: number) => (v < 0 ? '\u2212' + Math.abs(v) : String(v));

export default function App() {
  const W = 2400, H = 2400;
  const left = 300, right = 2160, top = 288, bottom = 2136;
  const n = Math.min(trueValues.length, predictions.length);
  const xs = trueValues.slice(0, n);
  const ys = predictions.slice(0, n);

  const tMin = d3.min(xs) as number;
  const tMax = d3.max(xs) as number;
  const xPad = (tMax - tMin) * 0.05;
  const yLo = Math.min(d3.min(ys) as number, tMin);
  const yHi = Math.max(d3.max(ys) as number, tMax);
  const yPad = (yHi - yLo) * 0.05;

  const x = d3.scaleLinear().domain([tMin - xPad, tMax + xPad]).range([left, right]);
  const y = d3.scaleLinear().domain([yLo - yPad, yHi + yPad]).range([bottom, top]);

  const linePath = d3.line<number>()
    .x((d) => x(d))
    .y((d) => y(d))([tMin, tMax]) as string;

  const tickLen = 14.58;
  const tickPad = 14.58;
  const lw = 3.33;
  const r = 12.5;
  const ew = 4.17;

  return (
    <svg width={W} height={H} viewBox={`0 0 ${W} ${H}`}
      style={{ position: 'absolute', left: 0, top: 0, background: '#fff' }}
      xmlns="http://www.w3.org/2000/svg">
      <rect x={0} y={0} width={W} height={H} fill="#ffffff" />
      <g>
        {xs.map((tv, i) => (
          <circle key={i} cx={x(tv)} cy={y(ys[i])} r={r}
            fill={BLUE} fillOpacity={0.5}
            stroke={BLUE} strokeOpacity={0.5} strokeWidth={ew} />
        ))}
      </g>
      <path d={linePath} stroke="#ff0000" strokeWidth={6.25} fill="none" strokeLinecap="square" />

      {/* spines */}
      <rect x={left} y={top} width={right - left} height={bottom - top}
        fill="none" stroke="#000" strokeWidth={lw} />

      {/* x ticks */}
      {xTicks.map((t) => (
        <g key={'xt' + t}>
          <line x1={x(t)} x2={x(t)} y1={bottom} y2={bottom + tickLen} stroke="#000" strokeWidth={lw} />
          <text x={x(t)} y={bottom + tickLen + tickPad + 31.7} textAnchor="middle"
            fontFamily={FONT} fontSize={FS} fill="#000">{fmt(t)}</text>
        </g>
      ))}
      {/* y ticks */}
      {yTicks.map((t) => (
        <g key={'yt' + t}>
          <line x1={left - tickLen} x2={left} y1={y(t)} y2={y(t)} stroke="#000" strokeWidth={lw} />
          <text x={left - tickLen - tickPad} y={y(t) + 15.2} textAnchor="end"
            fontFamily={FONT} fontSize={FS} fill="#000">{fmt(t)}</text>
        </g>
      ))}

      <text x={(left + right) / 2} y={2254} textAnchor="middle"
        fontFamily={FONT} fontSize={FS} fill="#000">{xAxisLabel}</text>
      <text x={186} y={(top + bottom) / 2} textAnchor="middle"
        transform={`rotate(-90, 186, ${(top + bottom) / 2})`}
        fontFamily={FONT} fontSize={FS} fill="#000">{yAxisLabel}</text>

      {/* legend */}
      <g>
        <rect x={320.8} y={308.8} width={414} height={138} rx={8} ry={8}
          fill="#ffffff" fillOpacity={0.8} stroke="#cccccc" strokeOpacity={0.8} strokeWidth={4.17} />
        <circle cx={379.2} cy={343.3} r={r} fill={BLUE} fillOpacity={0.5}
          stroke={BLUE} strokeOpacity={0.5} strokeWidth={ew} />
        <text x={454.2} y={358.3} fontFamily={FONT} fontSize={FS} fill="#000">{legendLabels[0]}</text>
        <line x1={337.5} x2={420.8} y1={406.7} y2={406.7} stroke="#ff0000" strokeWidth={6.25} strokeLinecap="square" />
        <text x={454.2} y={421.9} fontFamily={FONT} fontSize={FS} fill="#000">{legendLabels[1]}</text>
      </g>
    </svg>
  );
}
